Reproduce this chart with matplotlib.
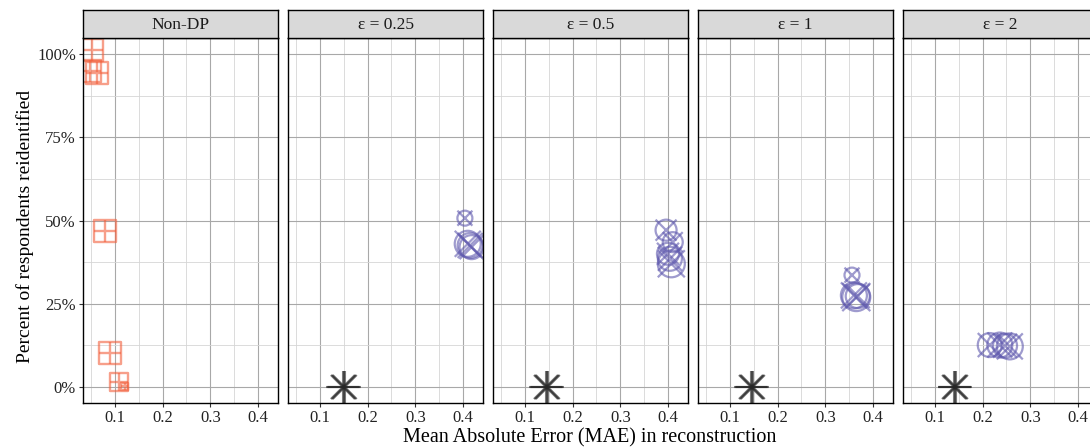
import matplotlib
matplotlib.use("Agg")
import matplotlib.pyplot as plt
from matplotlib.ticker import FuncFormatter, MultipleLocator

plt.rcParams['font.family'] = ['Liberation Serif', 'DejaVu Serif']

# ---------------- data ----------------
panel_titles = ["Non-DP", "ε = 0.25", "ε = 0.5", "ε = 1", "ε = 2"]

# Non-DP (square-plus markers)
nondp_mae = [0.052, 0.048, 0.062, 0.079, 0.0895, 0.108, 0.121]
nondp_reid = [1.012, 0.948, 0.944, 0.468, 0.102, 0.015, 0.002]
nondp_size = [22, 22, 22, 22, 22, 18, 7]          # marker width (px)

# DP synthesizer (circle-cross markers), per epsilon panel
dp_mae = {
    "ε = 0.25": [0.404, 0.410, 0.415, 0.418],
    "ε = 0.5": [0.396, 0.410, 0.400, 0.404, 0.407],
    "ε = 1": [0.356, 0.360, 0.365, 0.368],
    "ε = 2": [0.215, 0.236, 0.247, 0.257],
}
dp_reid = {
    "ε = 0.25": [0.507, 0.430, 0.425, 0.420],
    "ε = 0.5": [0.471, 0.435, 0.400, 0.385, 0.370],
    "ε = 1": [0.336, 0.275, 0.270, 0.273],
    "ε = 2": [0.126, 0.126, 0.124, 0.122],
}
dp_size = {
    "ε = 0.25": [15, 26, 25, 24],
    "ε = 0.5": [21, 20, 22, 24, 27],
    "ε = 1": [15, 26, 28, 24],
    "ε = 2": [24, 25, 24, 26],
}

# Baseline (asterisk markers), per epsilon panel
base_mae = {
    "ε = 0.25": [0.148, 0.150, 0.152],
    "ε = 0.5": [0.144, 0.146, 0.148],
    "ε = 1": [0.144, 0.146, 0.148],
    "ε = 2": [0.140, 0.142, 0.144],
}
base_reid = {
    "ε = 0.25": [0.0, 0.0, 0.0],
    "ε = 0.5": [0.0, 0.0, 0.0],
    "ε = 1": [0.0, 0.0, 0.0],
    "ε = 2": [0.0, 0.0, 0.0],
}

x_ticks = [0.1, 0.2, 0.3, 0.4]
y_ticks = [0.0, 0.25, 0.5, 0.75, 1.0]

# ---------------- style ----------------
W, H = 1090, 447
DPI = 100
PX2PT = 72.0 / DPI

col_sq = "#F2603C"
col_dp = "#5F59AE"
col_base = "#262626"

fig = plt.figure(figsize=(W / DPI, H / DPI), dpi=DPI)

panel_left0 = 83
panel_w = 195
panel_gap = 10
panel_top = 38
panel_bot = 403
strip_top = 10

for i, title in enumerate(panel_titles):
    left = panel_left0 + i * (panel_w + panel_gap)
    ax = fig.add_axes([left / W, (H - panel_bot) / H, panel_w / W, (panel_bot - panel_top) / H])
    sax = fig.add_axes([left / W, (H - panel_top) / H, panel_w / W, (panel_top - strip_top) / H])

    ax.set_xlim(0.033, 0.442)
    ax.set_ylim(-0.048, 1.048)
    ax.xaxis.set_minor_locator(MultipleLocator(0.05))
    ax.set_xticks(x_ticks)
    ax.set_yticks(y_ticks)
    ax.yaxis.set_minor_locator(MultipleLocator(0.125))
    ax.grid(which='major', color='#A8A8A8', linewidth=0.8)
    ax.grid(which='minor', color='#D6D6D6', linewidth=0.6)
    ax.set_axisbelow(True)
    ax.xaxis.set_major_formatter(FuncFormatter(lambda v, p: f"{v:.1f}"))
    ax.yaxis.set_major_formatter(FuncFormatter(lambda v, p: f"{v*100:.0f}%"))
    ax.tick_params(which='minor', length=0)
    ax.tick_params(which='major', length=3, width=0.8, color='#333333',
                   labelsize=12, labelcolor='#222222', pad=2)
    for sp in ax.spines.values():
        sp.set_color('black')
        sp.set_linewidth(1.0)
    if i > 0:
        ax.tick_params(axis='y', left=False, labelleft=False)

    if i == 0:
        s = [(v * PX2PT) ** 2 for v in nondp_size]
        ax.scatter(nondp_mae, nondp_reid, s=s, marker='s', facecolors='none',
                   edgecolors=col_sq, linewidths=1.7, alpha=0.6)
        ax.scatter(nondp_mae, nondp_reid, s=s, marker='+', color=col_sq,
                   linewidths=1.7, alpha=0.6)
    else:
        s = [(v * PX2PT) ** 2 for v in dp_size[title]]
        ax.scatter(dp_mae[title], dp_reid[title], s=s, marker='o', facecolors='none',
                   edgecolors=col_dp, linewidths=1.6, alpha=0.6)
        ax.scatter(dp_mae[title], dp_reid[title], s=s, marker='x', color=col_dp,
                   linewidths=1.6, alpha=0.6)
        n = len(base_mae[title])
        ax.scatter(base_mae[title], base_reid[title], s=[(33 * PX2PT) ** 2] * n,
                   marker='+', color=col_base, linewidths=1.5, alpha=0.6)
        ax.scatter(base_mae[title], base_reid[title], s=[(24 * PX2PT) ** 2] * n,
                   marker='x', color=col_base, linewidths=1.5, alpha=0.6)

    sax.set_xticks([])
    sax.set_yticks([])
    sax.set_facecolor('#D9D9D9')
    for sp in sax.spines.values():
        sp.set_color('black')
        sp.set_linewidth(1.0)
    sax.text(0.5, 0.45, title, ha='center', va='center', fontsize=12.5,
             color='#1A1A1A', transform=sax.transAxes)

fig.text(590 / W, 1 - 438 / H, "Mean Absolute Error (MAE) in reconstruction",
         ha='center', va='center', fontsize=14.5, color='black')
fig.text(25 / W, 1 - 226 / H, "Percent of respondents reidentified",
         ha='center', va='center', rotation=90, fontsize=14, color='black')

fig.savefig("out.png", dpi=DPI)
